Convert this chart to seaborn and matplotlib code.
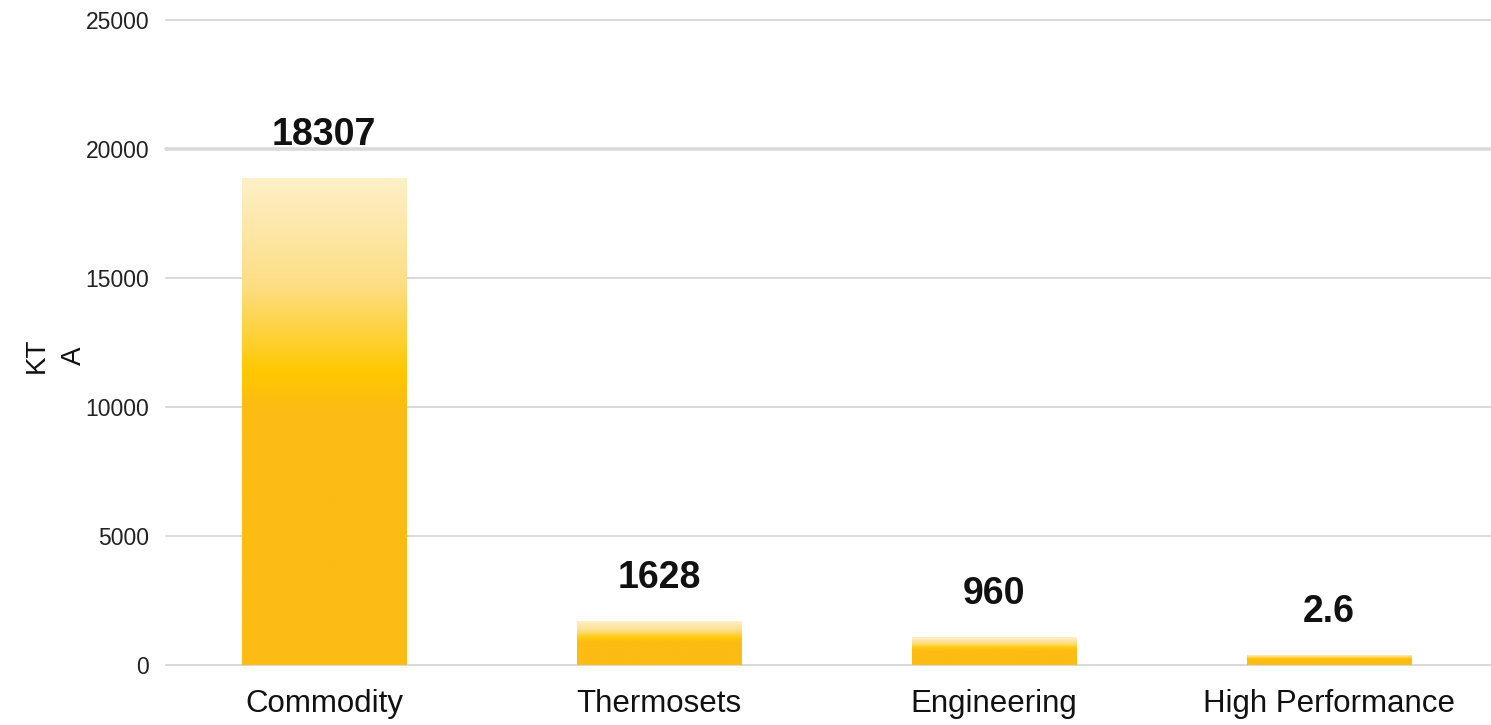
import numpy as np
import matplotlib
matplotlib.use("Agg")
import matplotlib.pyplot as plt
import seaborn as sns
from matplotlib.colors import LinearSegmentedColormap

categories = ["Commodity", "Thermosets", "Engineering", "High Performance"]
bar_heights = [18880, 1705, 1085, 388]
value_labels = ["18307", "1628", "960", "2.6"]
y_ticks = [0, 5000, 10000, 15000, 20000, 25000]

sns.set_theme(style="white")
plt.rcParams["font.family"] = ["Liberation Sans", "DejaVu Sans"]

fig = plt.figure(figsize=(14.91, 7.25), dpi=100)
ax = fig.add_axes([166 / 1491, (725 - 665) / 725, (1491 - 166) / 1491, 645 / 725])

sns.barplot(x=categories, y=bar_heights, ax=ax, color="#FCBC14", width=0.49, zorder=3)

# vertical gradient inside each bar: pale top -> gold -> deeper gold
grad_cmap = LinearSegmentedColormap.from_list(
    "bar_grad",
    [(0.0, "#FEF0C8"), (0.22, "#FDDE85"), (0.40, "#FFC800"), (0.47, "#FCBC14"), (1.0, "#FCBC14")],
)
grad = np.linspace(0, 1, 256).reshape(-1, 1)
for patch in ax.patches:
    x0, y0 = patch.get_x(), patch.get_y()
    w, h = patch.get_width(), patch.get_height()
    im = ax.imshow(grad, cmap=grad_cmap, aspect="auto", origin="upper",
                   extent=[x0, x0 + w, y0, y0 + h], zorder=3)
    im.set_clip_path(patch)
    patch.set_facecolor("none")
    patch.set_edgecolor("none")

for i, patch in enumerate(ax.patches):
    ax.annotate(value_labels[i], (patch.get_x() + patch.get_width() / 2, patch.get_height()),
                xytext=(0, 18), textcoords="offset points", ha="center", va="bottom",
                fontsize=27, fontweight="bold", color="#111111")

for t in y_ticks:
    lw = 2.6 if t == 20000 else 1.4
    ax.axhline(t, color="#D9D9D9", lw=lw, zorder=1, clip_on=False)

ax.set_xlim(-0.472, 3.484)
ax.set_ylim(0, 25000)
ax.set_yticks(y_ticks)
ax.set_yticklabels([str(t) for t in y_ticks], fontsize=16.5, color="#222222")
ax.tick_params(axis="y", length=0, pad=12)
ax.tick_params(axis="x", length=0, pad=17, labelsize=22.5, labelcolor="#111111")
ax.set_xlabel("")
ax.set_ylabel("KT\nA", fontsize=20, color="#111111", linespacing=1.55)
ax.yaxis.set_label_coords(-0.060, 0.48)
for s in ax.spines.values():
    s.set_visible(False)
ax.grid(False)

fig.savefig("out.png", dpi=100)
